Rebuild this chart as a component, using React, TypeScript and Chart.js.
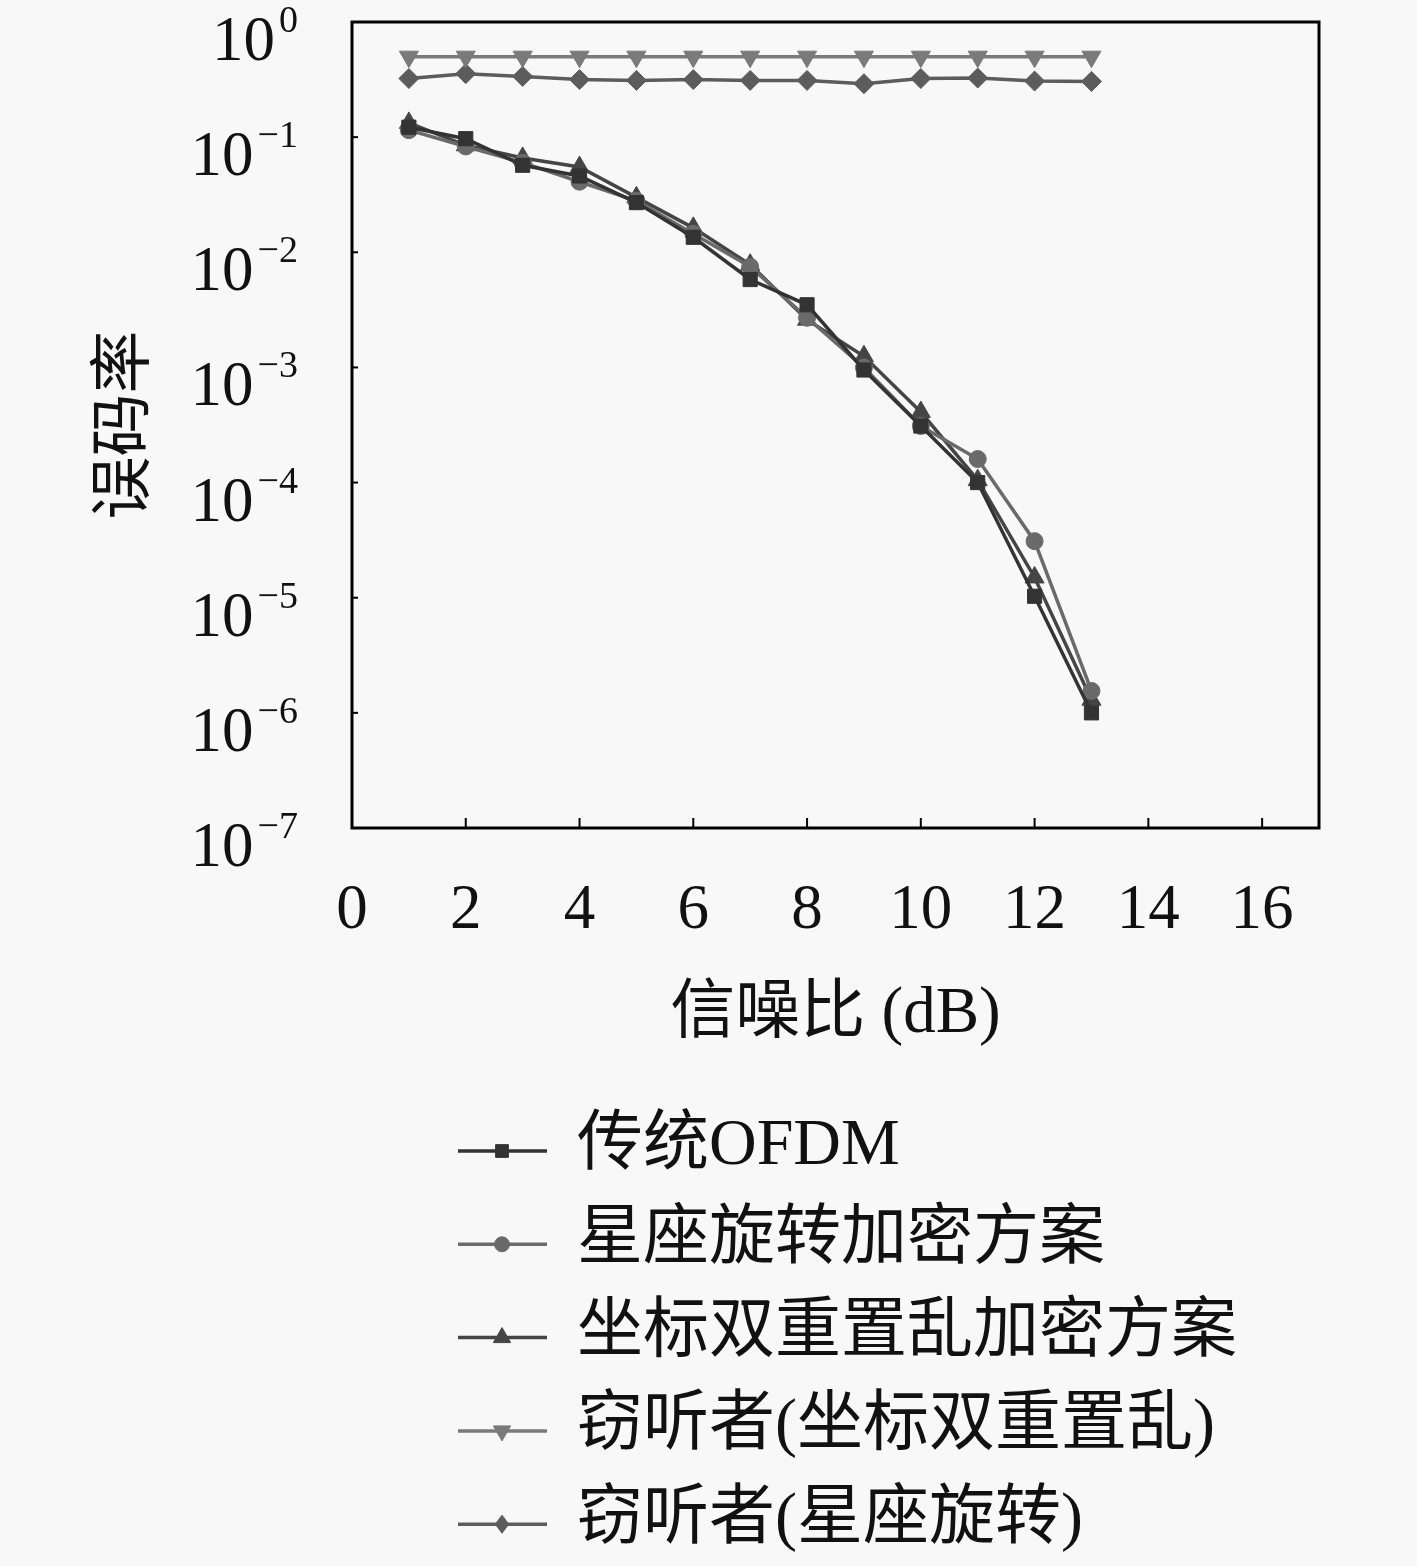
import React, { useEffect, useRef } from 'react';
import { Chart, registerables } from 'chart.js';

Chart.register(...registerables);

// ---------- data ----------
const snrDb = [1, 2, 3, 4, 5, 6, 7, 8, 9, 10, 11, 12, 13];

const berOfdm = [0.122, 0.097, 0.057, 0.046, 0.027, 0.0135, 0.0058, 0.0035, 0.00095, 0.00031, 0.0001, 1.03e-5, 1.0e-6];
const berRotation = [0.115, 0.083, 0.06, 0.041, 0.028, 0.0145, 0.0075, 0.0027, 0.001, 0.00031, 0.00016, 3.1e-5, 1.55e-6];
const berScramble = [0.133, 0.085, 0.066, 0.055, 0.03, 0.0163, 0.0078, 0.0026, 0.00125, 0.00041, 0.000105, 1.5e-5, 1.3e-6];
const berEveScramble = [0.5, 0.5, 0.5, 0.5, 0.5, 0.5, 0.5, 0.5, 0.5, 0.5, 0.5, 0.5, 0.5];
const berEveRotation = [0.323, 0.356, 0.337, 0.316, 0.311, 0.316, 0.311, 0.311, 0.291, 0.323, 0.326, 0.307, 0.305];

const seriesNames = ['传统OFDM', '星座旋转加密方案', '坐标双重置乱加密方案', '窃听者(坐标双重置乱)', '窃听者(星座旋转)'];
const xTickValues = [2, 4, 6, 8, 10, 12, 14, 16];
const yExponents = [0, -1, -2, -3, -4, -5, -6, -7];

const xTitle = '信噪比 (dB)';
const yTitle = '误码率';

// ---------- styles ----------
const colors = ['#333333', '#6a6a6a', '#454545', '#7a7a7a', '#5c5c5c'];
const markers = ['rect', 'circle', 'triangle', 'triangleDown', 'rectRot'];
const markerRadius = [10, 8.5, 11, 11, 10];

const serif = "'Liberation Serif', 'Noto Sans CJK SC', serif";

function drawMarker(ctx: CanvasRenderingContext2D, style: string, x: number, y: number, r: number) {
  ctx.beginPath();
  if (style === 'rect') {
    const s = r * Math.SQRT1_2;
    ctx.rect(x - s, y - s, 2 * s, 2 * s);
  } else if (style === 'circle') {
    ctx.arc(x, y, r, 0, Math.PI * 2);
  } else if (style === 'triangle') {
    ctx.moveTo(x, y - r);
    ctx.lineTo(x + r * 0.866, y + r * 0.5);
    ctx.lineTo(x - r * 0.866, y + r * 0.5);
    ctx.closePath();
  } else if (style === 'triangleDown') {
    ctx.moveTo(x, y + r);
    ctx.lineTo(x + r * 0.866, y - r * 0.5);
    ctx.lineTo(x - r * 0.866, y - r * 0.5);
    ctx.closePath();
  } else {
    ctx.moveTo(x, y - r);
    ctx.lineTo(x + r * 0.75, y);
    ctx.lineTo(x, y + r);
    ctx.lineTo(x - r * 0.75, y);
    ctx.closePath();
  }
  ctx.fill();
  ctx.stroke();
}

const framePlugin = {
  id: 'frameAndLegend',
  afterDraw(chart: any) {
    const { ctx, chartArea: a, scales } = chart;
    const xs = scales.x;
    const ys = scales.y;
    ctx.save();
    ctx.strokeStyle = '#000';
    ctx.lineCap = 'butt';
    // inner ticks
    ctx.lineWidth = 2;
    xTickValues.forEach((v) => {
      const px = xs.getPixelForValue(v);
      ctx.beginPath();
      ctx.moveTo(px, a.bottom);
      ctx.lineTo(px, a.bottom - 10);
      ctx.stroke();
    });
    yExponents.forEach((e) => {
      const py = ys.getPixelForValue(Math.pow(10, e));
      ctx.beginPath();
      ctx.moveTo(a.left, py);
      ctx.lineTo(a.left + 6, py);
      ctx.stroke();
    });
    // frame
    ctx.lineWidth = 3;
    ctx.strokeRect(a.left, a.top, a.right - a.left, a.bottom - a.top);

    // y tick labels 10^e
    ctx.fillStyle = '#111';
    ctx.textAlign = 'right';
    ctx.textBaseline = 'alphabetic';
    const R = a.left - 54;
    yExponents.forEach((e) => {
      const py = ys.getPixelForValue(Math.pow(10, e));
      const sup = e === 0 ? '0' : '\u2212' + Math.abs(e);
      ctx.font = `38px ${serif}`;
      const supW = ctx.measureText(sup).width;
      ctx.fillText(sup, R, py + 10);
      ctx.font = `63px ${serif}`;
      ctx.fillText('10', R - supW - 4, py + 38);
    });

    // legend
    const ds = chart.data.datasets;
    ds.forEach((d: any, i: number) => {
      const rowY = 1151 + i * 93.3;
      ctx.strokeStyle = d.borderColor;
      ctx.fillStyle = d.borderColor;
      ctx.lineWidth = 3.5;
      ctx.beginPath();
      ctx.moveTo(458, rowY);
      ctx.lineTo(547, rowY);
      ctx.stroke();
      ctx.lineWidth = 1;
      drawMarker(ctx, markers[i], 502, rowY, markerRadius[i] - 1);
      ctx.fillStyle = '#111';
      ctx.textAlign = 'left';
      ctx.textBaseline = 'middle';
      ctx.font = `66px ${serif}`;
      ctx.fillText(d.label, 577, rowY - 4);
    });
    ctx.restore();
  },
};

const seriesValues = [berOfdm, berRotation, berScramble, berEveScramble, berEveRotation];

export default function App() {
  const ref = useRef<HTMLCanvasElement>(null);

  useEffect(() => {
    if (!ref.current) return;
    const datasets = seriesValues.map((vals, i) => ({
      label: seriesNames[i],
      data: snrDb.map((x, j) => ({ x, y: vals[j] })),
      borderColor: colors[i],
      backgroundColor: colors[i],
      pointBackgroundColor: colors[i],
      pointBorderColor: colors[i],
      borderWidth: 3.5,
      pointRadius: markerRadius[i],
      pointBorderWidth: 1,
      pointStyle: markers[i] === 'triangleDown' ? 'triangle' : markers[i],
      pointRotation: markers[i] === 'triangleDown' ? 180 : 0,
      tension: 0,
      fill: false,
    }));

    const chart = new Chart(ref.current, {
      type: 'line',
      data: { datasets },
      plugins: [framePlugin],
      options: {
        responsive: false,
        animation: false,
        devicePixelRatio: 1,
        layout: { padding: { left: 0, right: 98, top: 22, bottom: 466 } },
        plugins: { legend: { display: false }, tooltip: { enabled: false } },
        scales: {
          x: {
            type: 'linear',
            min: 0,
            max: 17,
            afterFit: (s: any) => {
              s.height = 272;
            },
            grid: { display: false, drawTicks: false },
            border: { display: false },
            ticks: {
              stepSize: 2,
              includeBounds: false,
              padding: 46,
              color: '#111',
              font: { family: serif, size: 63 },
            },
            title: {
              display: true,
              text: xTitle,
              color: '#111',
              font: { family: serif, size: 65 },
              padding: { top: 0, bottom: 46 },
            },
          },
          y: {
            type: 'logarithmic',
            min: 1e-7,
            max: 1,
            afterFit: (s: any) => {
              s.width = 352;
            },
            grid: { display: false, drawTicks: false },
            border: { display: false },
            ticks: { display: false },
            title: {
              display: true,
              text: yTitle,
              color: '#111',
              font: { family: "'Noto Sans CJK SC', sans-serif", size: 63 },
              padding: { top: 81, bottom: 0 },
            },
          },
        },
      } as any,
    });
    return () => chart.destroy();
  }, []);

  return (
    <div style={{ position: 'absolute', left: 0, top: 0, width: 1417, height: 1566, background: '#f8f8f8' }}>
      <canvas ref={ref} width={1417} height={1566} style={{ display: 'block', width: 1417, height: 1566 }} />
    </div>
  );
}
